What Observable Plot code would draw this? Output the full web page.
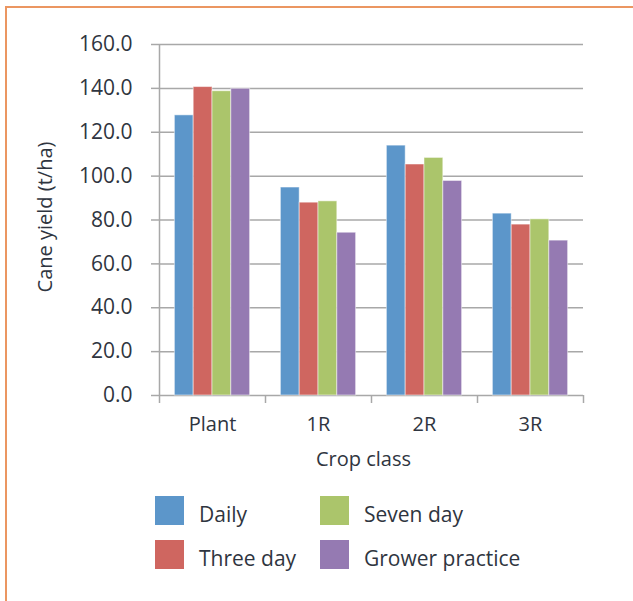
<!DOCTYPE html>
<html>
<head>
<meta charset="utf-8">
<script src="https://cdn.jsdelivr.net/npm/d3@7"></script>
<script src="https://cdn.jsdelivr.net/npm/@observablehq/plot@0.6"></script>
<style>
  html, body { margin: 0; padding: 0; background: #fff; }
  #page { position: relative; width: 633px; height: 601px; overflow: hidden; font-family: "Open Sans", sans-serif; color: #2f3540; }
  #frame { position: absolute; left: 5px; top: 6px; width: 700px; height: 700px; border-left: 2px solid #EB9661; border-top: 2px solid #EB9661; }
  #chart { position: absolute; left: 0; top: 0; }
  #legend { position: absolute; left: 155px; top: 496px; display: grid; grid-template-columns: 165px auto; row-gap: 15px; }
  .item { display: flex; align-items: center; font-size: 21px; height: 29px; }
  .sw { width: 29px; height: 29px; margin-right: 15px; flex: none; }
  .item span.t { position: relative; top: 3px; }
</style>
</head>
<body>
<div id="page">
  <div id="frame"></div>
  <div id="chart"></div>
  <div id="legend"></div>
</div>
<script>
const categories = ["Plant", "1R", "2R", "3R"];
const series = ["Daily", "Three day", "Seven day", "Grower practice"];
const daily = [127.7, 94.8, 113.9, 82.9];
const threeDay = [140.6, 87.9, 105.3, 77.9];
const sevenDay = [138.7, 88.5, 108.3, 80.3];
const grower = [139.8, 74.2, 97.8, 70.6];
const colors = ["#5C96CA", "#CF6660", "#ABC56B", "#957AB2"];
const yTicks = [0, 20, 40, 60, 80, 100, 120, 140, 160];

const values = [daily, threeDay, sevenDay, grower];
const data = [];
categories.forEach((c, ci) => series.forEach((s, si) => data.push({category: c, ci, series: s, si, value: values[si][ci]})));

// grouped layout within each category band (band = 1 unit on x)
const groupPad = 0.145, barW = (1 - 2 * 0.145) / series.length;

const grid = "#a8a8a8";
const chart = Plot.plot({
  width: 633,
  height: 480,
  marginLeft: 159,
  marginRight: 50,
  marginTop: 44,
  marginBottom: 85,
  style: {fontFamily: "Open Sans, sans-serif", color: "#2f3540", background: "transparent"},
  x: {type: "linear", domain: [0, categories.length], axis: null},
  y: {domain: [0, 160], axis: null},
  color: {domain: series, range: colors},
  marks: [
    Plot.ruleY(yTicks, {stroke: grid, strokeWidth: 1.5}),
    Plot.ruleX([0], {y1: 0, y2: 160, stroke: grid, strokeWidth: 1.5}),
    Plot.axisY({ticks: yTicks, label: null, tickFormat: d => d.toFixed(1), tickSize: 8, tickPadding: 19, fontSize: 21, stroke: grid, strokeWidth: 1.5}),
    Plot.axisX({ticks: d3.range(categories.length + 1), label: null, tickFormat: () => "", tickSize: 8, stroke: grid, strokeWidth: 1.5}),
    Plot.axisX({ticks: categories.map((c, i) => i + 0.5), label: null, tickFormat: d => categories[Math.floor(d)], tickSize: 0, tickPadding: 21, fontSize: 20}),
    Plot.rectY(data, {
      x1: d => d.ci + groupPad + d.si * barW,
      x2: d => d.ci + groupPad + (d.si + 1) * barW,
      y: "value",
      fill: "series",
      stroke: "#ffffff",
      strokeOpacity: 0.5,
      strokeWidth: 1
    }),
    Plot.text(["Crop class"], {frameAnchor: "bottom", text: d => d, dx: -8, dy: 70, fontSize: 20, fill: "#2f3540"}),
    Plot.text(["Cane yield (t/ha)"], {frameAnchor: "left", text: d => d, textAnchor: "middle", rotate: -90, dx: -114, dy: -3, fontSize: 20, fill: "#2f3540"})
  ]
});
document.getElementById("chart").appendChild(chart);

const legend = document.getElementById("legend");
[0, 2, 1, 3].forEach(i => {
  const item = document.createElement("div");
  item.className = "item";
  item.innerHTML = `<div class="sw" style="background:${colors[i]}"></div><span class="t">${series[i]}</span>`;
  legend.appendChild(item);
});
</script>
</body>
</html>
